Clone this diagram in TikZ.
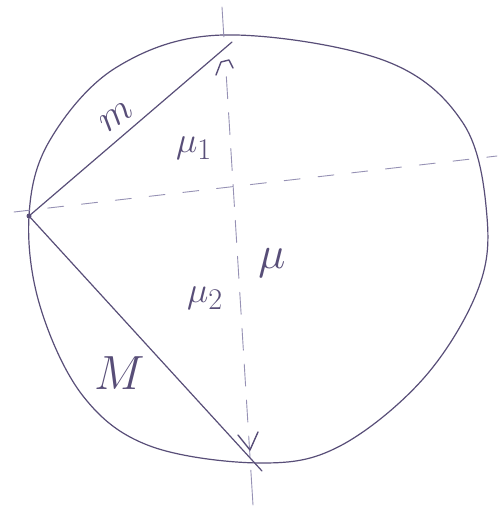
\documentclass[tikz,border=0pt]{standalone}
\usepackage{amsmath}
\usepackage{tikz}
\usetikzlibrary{calc, positioning}
\definecolor{pen}{RGB}{88, 78, 120}
\definecolor{penLight}{RGB}{150, 145, 180}

\begin{document}
\begin{tikzpicture}[x=1pt, y=-1pt, line cap=round, line join=round,
    stroke/.style={pen, line width=1.2pt},
    axis/.style={penLight, line width=0.9pt},
    lbl/.style={pen, inner sep=0pt, font=\Huge}]
  \useasboundingbox[fill=white] (0,0) rectangle (500,512);

  \coordinate (P) at (29,216);
  \coordinate (A) at (232,42);
  \coordinate (B) at (262,471);
  \coordinate (vTop) at (222,7);
  \coordinate (vBot) at (253,505);
  \coordinate (hLeft) at (14,212);
  \coordinate (hRight) at (497,156);

  % Outline of the ball
  \draw[stroke] plot[smooth cycle, tension=0.6] coordinates {
    (223,35) (383,60) (463,123) (487,217) (477,292) (423,379)
    (340,446) (262,463) (150,446) (83,396) (40,306) (29,216)
    (50,140) (117,67)};

  % Axes
  \draw[axis] (vTop) -- ($(vTop)!0.06!(vBot)$);
  \draw[axis, dash pattern=on 22pt off 14pt] ($(vTop)!0.14!(vBot)$) -- ($(vTop)!0.93!(vBot)$);
  \draw[axis] ($(vTop)!0.93!(vBot)$) -- (vBot);
  \draw[axis, dash pattern=on 16pt off 18pt] (hLeft) -- (hRight);

  % Chords
  \draw[stroke] (P) -- (A);
  \draw[stroke] (P) -- (B);
  \fill[pen] (P) circle (2.5pt);

  % Small marks at the chord ends
  \draw[stroke, line width=1.4pt] (216,75) -- (221,62) -- (229,60) -- (233,68);
  \draw[stroke, line width=1.4pt] (238,435) -- (250,450) -- (258,432);

  % Labels
  \node[lbl, rotate=35] (mLbl) at (117,117) {\scalebox{1.6}{$m$}};
  \node[lbl] (mu1) at (194,148) {\scalebox{1.45}{$\mu_1$}};
  \node[lbl] (mu) at (272,263) {\scalebox{1.85}{$\mu$}};
  \node[lbl] (mu2) at (205,298) {\scalebox{1.45}{$\mu_2$}};
  \node[lbl] (MLbl) at (120,373) {\scalebox{1.93}{$M$}};
\end{tikzpicture}
\end{document}
